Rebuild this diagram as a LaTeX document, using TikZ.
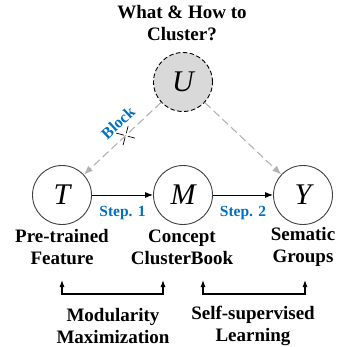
\documentclass[tikz,border=0pt]{standalone}
\usepackage{fontspec}
\setmainfont{Liberation Serif}
\usetikzlibrary{arrows.meta,shapes.misc}
\definecolor{stepblue}{RGB}{0,112,192}
\tikzstyle{node_var} = [circle, draw=black!75, line width=0.9pt, inner sep=0pt, minimum size=59pt, font=\fontsize{30}{30}\selectfont\itshape]
\tikzstyle{node_hidden} = [node_var, draw=black, dashed, dash pattern=on 4.5pt off 2.5pt, fill=black!15]
\tikzstyle{node_text} = [align=center, font=\bfseries\fontsize{19}{22}\selectfont]
\tikzstyle{node_step} = [text=stepblue, font=\bfseries\fontsize{15.5}{15.5}\selectfont]
\tikzstyle{node_block} = [text=stepblue, font=\bfseries\fontsize{16}{16}\selectfont]
\tikzstyle{edge_step} = [line width=0.9pt, -{Latex[length=8pt,width=6pt]}]
\tikzstyle{edge_hidden} = [line width=1.1pt, black!30, dash pattern=on 8pt off 4pt, -{Latex[length=9pt,width=7pt]}]
\tikzstyle{edge_bracket} = [line width=1.1pt, {Latex[length=7pt,width=5pt]}-{Latex[length=7pt,width=5pt]}]

\begin{document}
\begin{tikzpicture}[x=1pt,y=-1pt]
		\useasboundingbox (0,0) rectangle (338,347);
		\node (title) at (182,23) [node_text] {What \& How to\\Cluster?};
		\node (U) at (183,82) [node_hidden] {U};
		\node (T) at (62,195) [node_var] {T};
		\node (M) at (183,195) [node_var] {M};
		\node (Y) at (303,195) [node_var] {Y};
		
		\node (feat) at (62,247) [node_text] {Pre-trained\\Feature};
		\node (book) at (182,247) [node_text] {Concept\\ClusterBook};
		\node (group) at (303,247) [node_text] {Sematic\\Groups};
		
		\draw[edge_step] (T)--(M) node[midway, below=7pt, node_step] (s1) {Step. 1};
		\draw[edge_step] (M)--(Y) node[midway, below=7pt, node_step] (s2) {Step. 2};
		\draw[edge_hidden] (U)--(T)
			node[pos=0.43, sloped, above=5pt, node_block] (block) {Block}
			node[pos=0.46, cross out, draw=black, line width=0.7pt, minimum size=13pt, inner sep=0pt, rotate=30] (cut) {};
		\draw[edge_hidden] (U)--(Y);
		
		% brackets below the labels
		\coordinate (m1l) at (62,280);
		\coordinate (m1r) at (163,280);
		\coordinate (m2l) at (203,280);
		\coordinate (m2r) at (305,280);
		\coordinate (base) at (0,294);
		\draw[edge_bracket] (m1l) -- (m1l |- base) -- (m1r |- base) -- (m1r);
		\draw[edge_bracket] (m2l) -- (m2l |- base) -- (m2r |- base) -- (m2r);
		\node (mod) at (113,326) [node_text] {Modularity\\Maximization};
		\node (ssl) at (253,326) [node_text] {Self-supervised\\Learning};
		\end{tikzpicture}
\end{document}
